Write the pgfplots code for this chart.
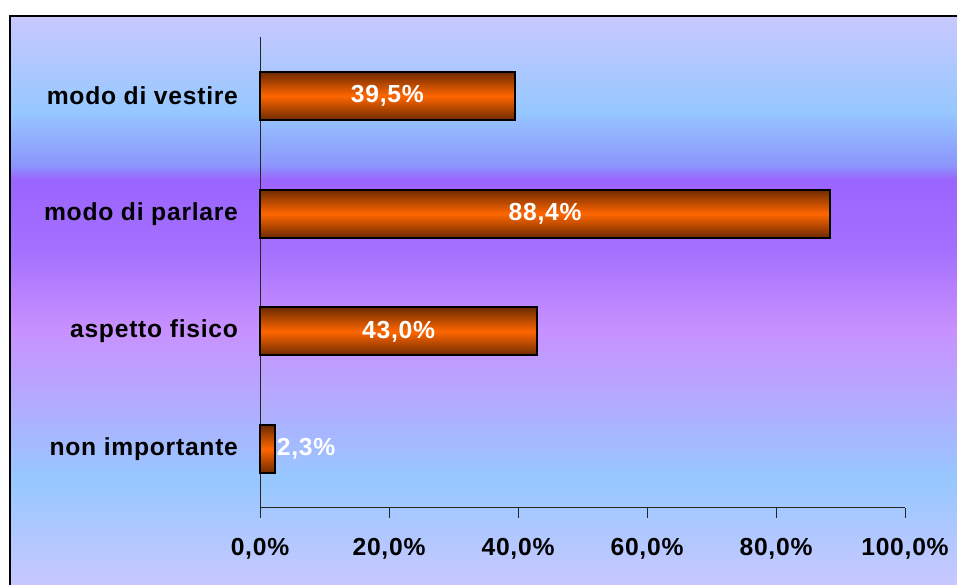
\documentclass[border=0pt]{standalone}
\usepackage{fontspec}
\setmainfont{Liberation Sans}
\newfontfamily\lblfont{Liberation Sans}[LetterSpace=3]
\usepackage{pgfplots}
\pgfplotsset{compat=1.18}
\newcommand\lbl{\lblfont\fontsize{18.5pt}{21pt}\selectfont\bfseries}
\definecolor{bgA}{RGB}{200,200,255}
\definecolor{bgB}{RGB}{150,200,255}
\definecolor{bgE}{RGB}{140,150,252}
\definecolor{bgD}{RGB}{155,100,255}
\definecolor{bgF}{RGB}{165,112,255}
\definecolor{bgC}{RGB}{200,145,255}
\definecolor{bgG}{RGB}{180,170,255}
\definecolor{bardark}{RGB}{110,42,0}
\definecolor{barorange}{RGB}{255,102,0}
\pgfdeclareverticalshading{bgshade}{100bp}{color(0bp)=(bgA); color(25bp)=(bgA); color(34.2bp)=(bgB); color(41.3bp)=(bgG); color(47.4bp)=(bgC); color(54.4bp)=(bgF); color(60.6bp)=(bgD); color(61.9bp)=(bgE); color(66.7bp)=(bgB); color(75bp)=(bgA); color(100bp)=(bgA)}
\pgfplotsset{onebar/.style={xbar, bar width=36pt, bar shift=0pt, draw=black, line width=1.5pt,
  top color=bardark, bottom color=bardark, middle color=barorange, forget plot}}
\begin{document}
\begin{tikzpicture}
\useasboundingbox (0,0) rectangle (717.75pt,438.75pt);
\fill[white] (0,0) rectangle (717.75pt,438.75pt);
\shade[shading=bgshade] (7.5pt,0) rectangle (717.75pt,426.75pt);
\draw[black, line width=1.1pt] (7.5pt,0) -- (7.5pt,426.75pt) -- (720pt,426.75pt);
\begin{axis}[
  at={(195pt,57.75pt)}, anchor=south west,
  scale only axis, width=483.75pt, height=353.25pt,
  xmin=0, xmax=100, ymin=-0.5, ymax=3.5,
  axis x line*=bottom, axis y line*=left,
  axis line style={black!85, line width=0.75pt},
  xtick={0,20,40,60,80,100},
  xticklabels={{0,0\%},{20,0\%},{40,0\%},{60,0\%},{80,0\%},{100,0\%}},
  ytick={0,1,2,3},
  yticklabels={non importante, aspetto fisico, modo di parlare, modo di vestire},
  tick align=outside, major tick length=7.5pt,
  xtick style={black!85, line width=0.75pt},
  ytick style={draw=none},
  xticklabel style={font=\lbl, yshift=-12pt},
  yticklabel style={font=\lbl, xshift=-5.5pt},
  clip=false,
]
\addplot[onebar] coordinates {(2.3,0)};
\addplot[onebar] coordinates {(43.0,1)};
\addplot[onebar] coordinates {(88.4,2)};
\addplot[onebar] coordinates {(39.5,3)};
\addplot[draw=none, mark=none, nodes near coords, point meta=explicit symbolic,
  every node near coord/.append style={anchor=center, font=\lbl, text=white}]
  coordinates {(21.5,1) [43,0\%] (44.2,2) [88,4\%] (19.75,3) [39,5\%]};
\addplot[draw=none, mark=none, nodes near coords, point meta=explicit symbolic,
  every node near coord/.append style={anchor=west, font=\lbl, text=white, xshift=-2pt}]
  coordinates {(2.3,0) [2,3\%]};
\end{axis}
\end{tikzpicture}
\end{document}
